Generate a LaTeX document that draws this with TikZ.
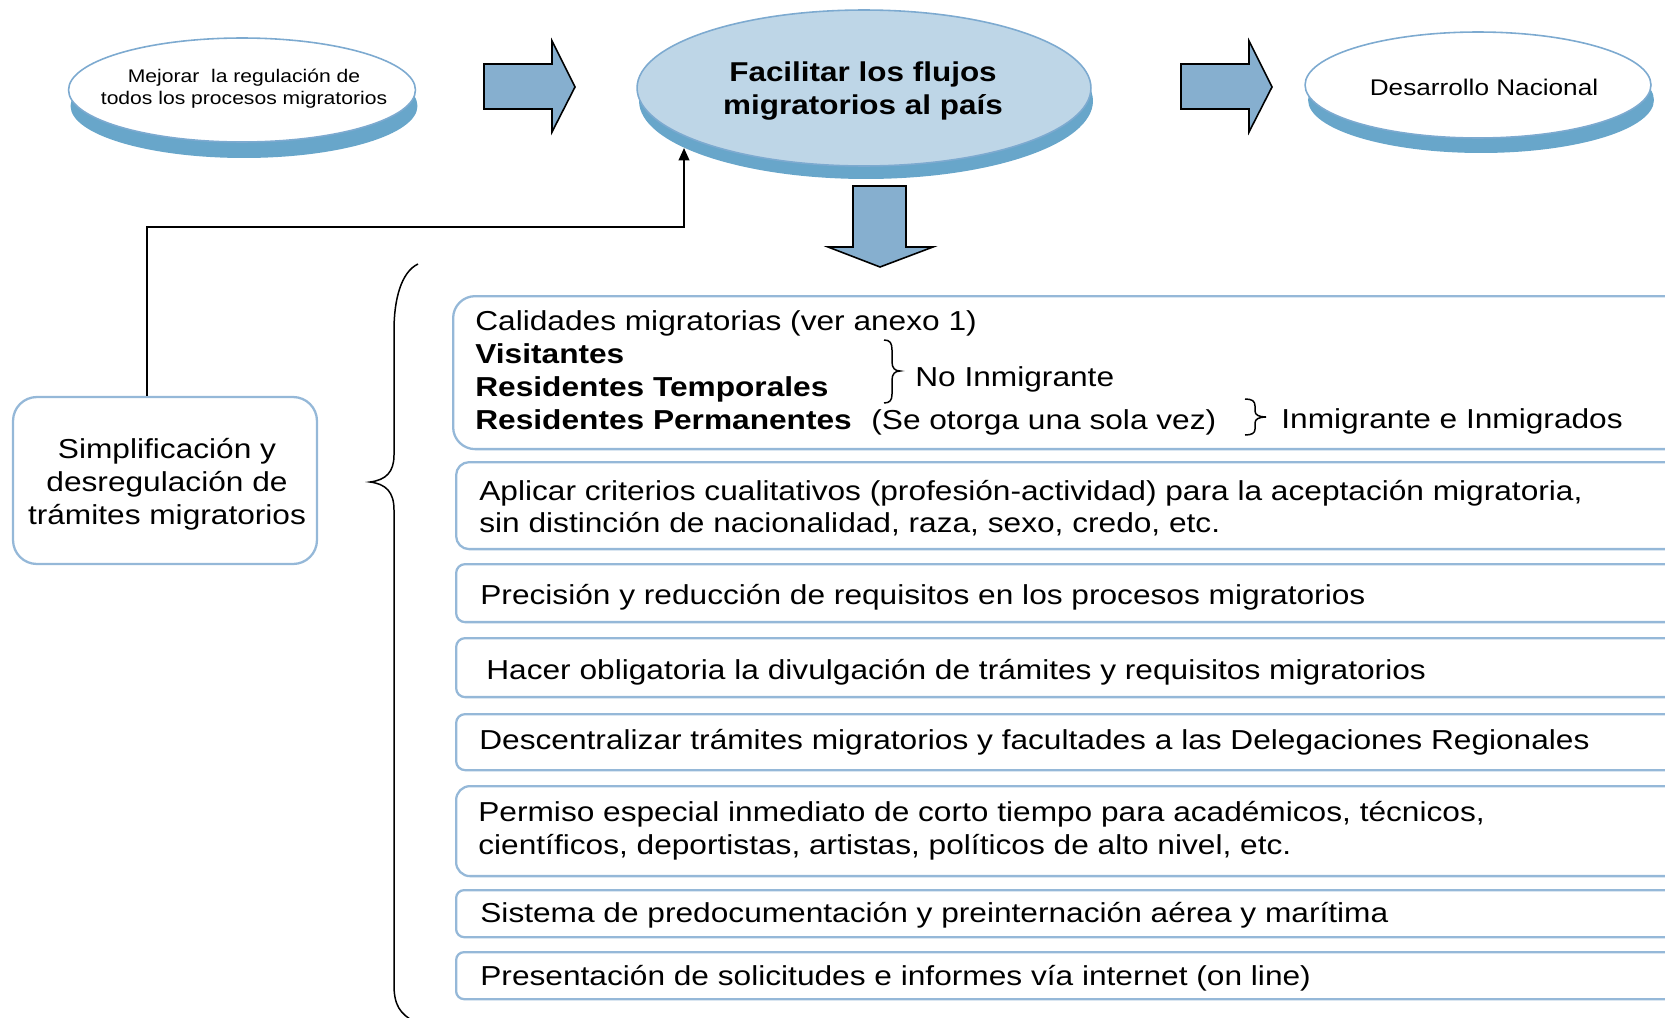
\documentclass[tikz,border=0pt]{standalone}
\usepackage{fontspec}
\setmainfont{Liberation Sans}[FakeStretch=1.155]
\usetikzlibrary{shadows,arrows.meta,shapes.geometric}
\definecolor{eborder}{RGB}{125,170,208}
\definecolor{band}{RGB}{104,166,202}
\definecolor{facefill}{RGB}{190,214,231}
\definecolor{arrowfill}{RGB}{134,175,207}
\definecolor{boxborder}{RGB}{149,184,216}
\begin{document}
\begin{tikzpicture}[x=0.02cm,y=-0.02cm,
  txt/.style={inner sep=0pt, anchor=base west, font=\fontsize{15.6}{18.7}\selectfont},
  btxt/.style={inner sep=0pt, anchor=base west, font=\fontsize{15.6}{18.7}\selectfont\bfseries},
  ctxt/.style={inner sep=0pt, align=center},
  rbox/.style={draw=boxborder, line width=1.3pt, anchor=north west, minimum width=26cm, inner sep=0pt},
  disc/.style={ellipse, draw=eborder, line width=0.9pt, inner sep=0pt},
  blockarrow/.style={draw=black, line width=0.9pt, fill=arrowfill},
  conn/.style={line width=1.1pt, -{Triangle[length=7pt,width=6pt]}},
  bracestyle/.style={line width=0.85pt},
]
\useasboundingbox (0,0) rectangle (1665,1017);
\clip (0,0) rectangle (1665,1017);

% top ellipses
\node[disc, fill=white, minimum width=6.94cm, minimum height=2.08cm,
  general shadow={fill=band, shadow xshift=0.04cm, shadow yshift=-0.32cm}] (mej) at (242,90) {};
\node[ctxt, font=\fontsize{10.4}{12.5}\selectfont] (mejt) at (244,89)
  {Mejorar\ \ la regulación de\\todos los procesos migratorios};
\node[disc, fill=facefill, minimum width=9.08cm, minimum height=3.12cm,
  general shadow={fill=band, shadow xshift=0.04cm, shadow yshift=-0.26cm}] (fac) at (864,88) {};
\node[ctxt, font=\fontsize{15.5}{18.7}\selectfont\bfseries] (fact) at (863,91)
  {Facilitar los flujos\\migratorios al país};
\node[disc, fill=white, minimum width=6.92cm, minimum height=2.12cm,
  general shadow={fill=band, shadow xshift=0.06cm, shadow yshift=-0.30cm}] (des) at (1478,85) {};
\node[ctxt, font=\fontsize{12.9}{15}\selectfont] (dest) at (1484,87) {Desarrollo Nacional};

% block arrows
\draw[blockarrow] (484,64) -- (552,64) -- (552,41) -- (575,87) -- (552,132) -- (552,109) -- (484,109) -- cycle;
\draw[blockarrow] (1181,64) -- (1249,64) -- (1249,41) -- (1272,87) -- (1249,132) -- (1249,109) -- (1181,109) -- cycle;
\draw[blockarrow] (853,186) -- (906,186) -- (906,247) -- (933,247) -- (880,267) -- (828,247) -- (853,247) -- cycle;

% left box
\node[draw=boxborder, line width=1.3pt, rounded corners=13.6pt, minimum width=6.08cm, minimum height=3.34cm] (simp) at (165,480.5) {};
\node[ctxt, font=\fontsize{15.6}{18.7}\selectfont] (simpt) at (167,484)
  {Simplificación y\\desregulación de\\trámites migratorios};

% connector
\coordinate (bend) at (684,227);
\coordinate (tipc) at (684,148);
\draw[conn] ([xshift=-0.36cm]simp.north) |- (bend) -- (tipc);

% big brace
\draw[bracestyle] (418,264) .. controls (401,272) and (394,300) .. (394,330) -- (394,455)
  .. controls (394,472) and (386,480) .. (370,482)
  .. controls (386,484) and (394,492) .. (394,510) -- (394,985)
  .. controls (394,1005) and (400,1014) .. (415,1022);

% right boxes
\node[rbox, rounded corners=12.5pt, minimum height=3.06cm] (b1) at (452,295) {};
\node[rbox, rounded corners=7.4pt, minimum height=1.74cm] (b2) at (455,461) {};
\node[rbox, rounded corners=5.1pt, minimum height=1.16cm] (b3) at (455,563) {};
\node[rbox, rounded corners=5.1pt, minimum height=1.18cm] (b4) at (455,637) {};
\node[rbox, rounded corners=5.1pt, minimum height=1.12cm] (b5) at (455,713) {};
\node[rbox, rounded corners=7.9pt, minimum height=1.80cm] (b6) at (455,785) {};
\node[rbox, rounded corners=4.5pt, minimum height=0.94cm] (b7) at (455,889) {};
\node[rbox, rounded corners=4.5pt, minimum height=0.94cm] (b8) at (455,951) {};

% box 1 content
\node[txt] (cal) at (475,330) {Calidades migratorias (ver anexo 1)};
\node[btxt] (vis) at (475,363.5) {Visitantes};
\node[btxt] (rtem) at (475,396.5) {Residentes Temporales};
\node[btxt] (rper) at (475,429.5) {Residentes Permanentes};
\node[txt] (otorga) at (871,429.5) {(Se otorga una sola vez)};
\node[txt] (noinm) at (915,386) {No Inmigrante};
\node[txt] (inm) at (1281,428) {Inmigrante e Inmigrados};
\draw[bracestyle] (884,340) .. controls (890,340) and (892,343) .. (892,350) -- (892,362)
  .. controls (892,368) and (895,371) .. (900,371)
  .. controls (895,371) and (892,374) .. (892,380) -- (892,394)
  .. controls (892,400) and (890,403) .. (884,403);
\draw[bracestyle] (1245,399) .. controls (1252,399) and (1255,401) .. (1255,406) -- (1255,411)
  .. controls (1255,415) and (1259,417) .. (1266,417)
  .. controls (1259,417) and (1255,419) .. (1255,423) -- (1255,429)
  .. controls (1255,433) and (1252,435) .. (1245,435);

% other box texts
\node[txt] (t2a) at (479,500) {Aplicar criterios cualitativos (profesión-actividad) para la aceptación migratoria,};
\node[txt] (t2b) at (479,532) {sin distinción de nacionalidad, raza, sexo, credo, etc.};
\node[txt] (t3) at (480,604) {Precisión y reducción de requisitos en los procesos migratorios};
\node[txt] (t4) at (486,679) {Hacer obligatoria la divulgación de trámites y requisitos migratorios};
\node[txt] (t5) at (479,749) {Descentralizar trámites migratorios y facultades a las Delegaciones Regionales};
\node[txt] (t6a) at (478,821) {Permiso especial inmediato de corto tiempo para académicos, técnicos,};
\node[txt] (t6b) at (478,854) {científicos, deportistas, artistas, políticos de alto nivel, etc.};
\node[txt] (t7) at (480,922) {Sistema de predocumentación y preinternación aérea y marítima};
\node[txt] (t8) at (480,985) {Presentación de solicitudes e informes vía internet (on line)};
\end{tikzpicture}
\end{document}
